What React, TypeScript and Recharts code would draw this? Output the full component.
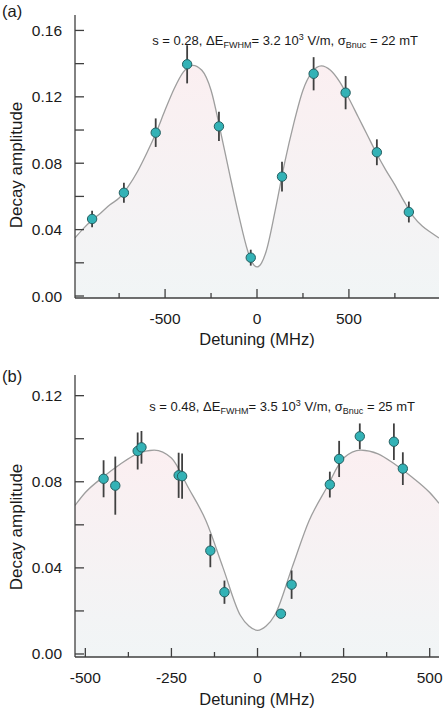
import React from 'react';
import { ComposedChart, Area, Scatter, ErrorBar, XAxis, YAxis } from 'recharts';

// (a) s = 0.28 — measured decay amplitudes with error bars
const detuningA = [-897, -724, -551, -380, -207, -34, 136, 308, 482, 652, 826];
const amplitudeA = [0.0464, 0.0622, 0.0984, 0.1396, 0.1022, 0.0231, 0.0719, 0.1339, 0.1225, 0.0866, 0.0506];
const errorA = [0.005, 0.006, 0.0086, 0.0115, 0.0088, 0.0048, 0.009, 0.01, 0.01, 0.0078, 0.0063];

// (a) model curve
const fitDetuningA = [
  -990, -950, -900, -850, -800, -750, -700, -650, -600, -550, -500, -450, -400, -350, -300, -250, -200, -150,
  -100, -50, -25, 0, 25, 50, 100, 150, 200, 250, 300, 350, 400, 450, 500, 550, 600, 650, 700, 750, 800, 850,
  900, 950, 990,
];
const fitAmplitudeA = [
  0.035, 0.04, 0.0455, 0.05, 0.055, 0.059, 0.066, 0.075, 0.086, 0.098, 0.112, 0.125, 0.135, 0.139, 0.136,
  0.124, 0.1, 0.074, 0.049, 0.027, 0.02, 0.0175, 0.02, 0.027, 0.052, 0.08, 0.104, 0.124, 0.135, 0.1387, 0.136,
  0.129, 0.119, 0.108, 0.097, 0.086, 0.076, 0.067, 0.057, 0.048, 0.042, 0.038, 0.035,
];

// (b) s = 0.48
const detuningB = [-447, -413, -348, -337, -229, -219, -137, -96, 68, 99, 210, 237, 297, 396, 422];
const amplitudeB = [0.0814, 0.0782, 0.0943, 0.096, 0.083, 0.0826, 0.048, 0.0287, 0.0187, 0.0322, 0.0787, 0.0906, 0.1011, 0.0986, 0.0861];
const errorB = [0.0086, 0.0135, 0.0086, 0.0076, 0.0105, 0.0105, 0.0077, 0.0054, 0.002, 0.0066, 0.006, 0.0084, 0.006, 0.0085, 0.0076];

const fitDetuningB = [
  -530, -500, -450, -400, -350, -300, -250, -200, -150, -100, -50, -25, 0, 25, 50, 100, 150, 200, 250, 300,
  350, 400, 450, 500, 527,
];
const fitAmplitudeB = [
  0.069, 0.075, 0.082, 0.088, 0.093, 0.0947, 0.091, 0.077, 0.062, 0.04, 0.018, 0.013, 0.011, 0.013, 0.018,
  0.04, 0.062, 0.077, 0.091, 0.0947, 0.093, 0.088, 0.082, 0.075, 0.07,
];

// axis ticks (labelled ones get the longer tick)
const xTicksA = [-750, -500, -250, 0, 250, 500, 750];
const xLabelsA = [-500, 0, 500];
const yTicksA = [0, 0.02, 0.04, 0.06, 0.08, 0.1, 0.12, 0.14, 0.16];
const yLabelsA = [0, 0.04, 0.08, 0.12, 0.16];

const xTicksB = [-500, -375, -250, -125, 0, 125, 250, 375, 500];
const xLabelsB = [-500, -250, 0, 250, 500];
const yTicksB = [0, 0.02, 0.04, 0.06, 0.08, 0.1, 0.12];
const yLabelsB = [0, 0.04, 0.08, 0.12];

const SANS = '"Liberation Sans", Arial, Helvetica, sans-serif';
const INK = '#3f3f3f';
const TEXT = '#1a1a1a';

const zip2 = (xs: number[], ys: number[]) => xs.map((x, i) => ({ x, y: ys[i] }));
const zip3 = (xs: number[], ys: number[], es: number[]) => xs.map((x, i) => ({ x, y: ys[i], err: es[i] }));

type Side = 'bottom' | 'top' | 'left' | 'right';

// ticks point into the plot box on all four sides
const makeTick = (side: Side, labels: number[], fmt: (v: number) => string, majorLen: number, minorLen: number) =>
  (props: any) => {
    const { x, y, payload } = props;
    const v = payload.value;
    const major = labels.some((l) => Math.abs(l - v) < 1e-9);
    const len = major ? majorLen : minorLen;
    let line;
    if (side === 'bottom') line = { x1: x, x2: x, y1: y, y2: y - len };
    else if (side === 'top') line = { x1: x, x2: x, y1: y, y2: y + len };
    else if (side === 'left') line = { x1: x, x2: x + len, y1: y, y2: y };
    else line = { x1: x, x2: x - len, y1: y, y2: y };
    return (
      <g>
        <line {...line} stroke={INK} strokeWidth={1.3} />
        {major && side === 'bottom' && (
          <text x={x} y={y + 25.5} textAnchor="middle" fontSize={15.5} fontFamily={SANS} fill={TEXT}>
            {fmt(v)}
          </text>
        )}
        {major && side === 'left' && (
          <text x={x - 13} y={y + 5.5} textAnchor="end" fontSize={15.5} fontFamily={SANS} fill={TEXT}>
            {fmt(v)}
          </text>
        )}
      </g>
    );
  };

const fmtX = (v: number) => `${v}`;
const fmtY = (v: number) => v.toFixed(2);

type PanelProps = {
  id: string;
  top: number;
  height: number;
  axisHeight: number;
  titleOffset: number;
  fit: { x: number; y: number }[];
  points: { x: number; y: number; err: number }[];
  xDomain: [number, number];
  yDomain: [number, number];
  xTicks: number[];
  xLabels: number[];
  yTicks: number[];
  yLabels: number[];
};

const Panel = (p: PanelProps) => (
  <div style={{ position: 'absolute', left: 0, top: p.top }}>
    <ComposedChart width={444} height={p.height} data={p.fit} margin={{ top: 15, right: 5, bottom: 0, left: 0 }}>
      <defs>
        <linearGradient id={`fill-${p.id}`} x1="0" y1="0" x2="0" y2="1">
          <stop offset="0%" stopColor="#fbeff1" />
          <stop offset="100%" stopColor="#f1f5f6" />
        </linearGradient>
      </defs>
      <XAxis
        dataKey="x"
        type="number"
        domain={p.xDomain}
        allowDataOverflow
        ticks={p.xTicks}
        interval={0}
        height={p.axisHeight}
        tickSize={0}
        tickMargin={0}
        tickLine={false}
        axisLine={{ stroke: INK, strokeWidth: 1.3 }}
        tick={makeTick('bottom', p.xLabels, fmtX, 9, 5)}
        label={{
          value: 'Detuning (MHz)',
          position: 'insideBottom',
          offset: p.titleOffset,
          fill: TEXT,
          fontSize: 16.5,
          fontFamily: SANS,
        }}
      />
      <XAxis
        xAxisId="top"
        orientation="top"
        type="number"
        domain={p.xDomain}
        allowDataOverflow
        ticks={p.xTicks}
        interval={0}
        height={0}
        tickSize={0}
        tickMargin={0}
        tickLine={false}
        axisLine={{ stroke: INK, strokeWidth: 1.3 }}
        tick={makeTick('top', p.xLabels, fmtX, 9, 5)}
      />
      <YAxis
        type="number"
        domain={p.yDomain}
        allowDataOverflow
        ticks={p.yTicks}
        interval={0}
        width={75}
        tickSize={0}
        tickMargin={0}
        tickLine={false}
        axisLine={{ stroke: INK, strokeWidth: 1.3 }}
        tick={makeTick('left', p.yLabels, fmtY, 9, 9)}
      />
      <YAxis
        yAxisId="right"
        orientation="right"
        type="number"
        domain={p.yDomain}
        allowDataOverflow
        ticks={p.yTicks}
        interval={0}
        width={0}
        tickSize={0}
        tickMargin={0}
        tickLine={false}
        axisLine={{ stroke: '#8a8a8a', strokeWidth: 1.3 }}
        tick={makeTick('right', p.yLabels, fmtY, 9, 9)}
      />
      <Area
        type="monotone"
        dataKey="y"
        baseValue="dataMin"
        stroke="#9e9e9e"
        strokeWidth={1.3}
        fill={`url(#fill-${p.id})`}
        fillOpacity={1}
        dot={false}
        activeDot={false}
        isAnimationActive={false}
      />
      <Scatter
        data={p.points}
        dataKey="y"
        isAnimationActive={false}
        shape={(s: any) => <circle cx={s.cx} cy={s.cy} r={4.7} fill="#33b2b6" stroke="#245e60" strokeWidth={1} />}
      >
        <ErrorBar dataKey="err" direction="y" width={0} stroke="#404040" strokeWidth={1.8} />
      </Scatter>
    </ComposedChart>
  </div>
);

const Note = ({ top, right, s, de, sigma }: { top: number; right: number; s: string; de: string; sigma: string }) => {
  const sub: React.CSSProperties = { fontSize: 9, verticalAlign: '-0.3em' };
  const sup: React.CSSProperties = { fontSize: 9, verticalAlign: '0.55em' };
  return (
    <div
      style={{
        position: 'absolute',
        top,
        right,
        fontFamily: SANS,
        fontSize: 13,
        lineHeight: '14px',
        color: TEXT,
        whiteSpace: 'nowrap',
      }}
    >
      s = {s}, ΔE<span style={sub}>FWHM</span>= {de} 10<span style={sup}>3</span> V/m, σ<span style={sub}>Bnuc</span> = {sigma} mT
    </div>
  );
};

const YTitle = ({ centerY }: { centerY: number }) => (
  <div
    style={{
      position: 'absolute',
      left: 17 - 100,
      top: centerY - 10,
      width: 200,
      height: 20,
      lineHeight: '20px',
      textAlign: 'center',
      transform: 'rotate(-90deg)',
      fontFamily: SANS,
      fontSize: 17,
      color: TEXT,
      whiteSpace: 'nowrap',
    }}
  >
    Decay amplitude
  </div>
);

const PanelTag = ({ top, text }: { top: number; text: string }) => (
  <div style={{ position: 'absolute', left: 2, top, fontFamily: SANS, fontSize: 16.5, lineHeight: '18px', color: TEXT }}>
    {text}
  </div>
);

export default function App() {
  return (
    <div style={{ position: 'absolute', left: 0, top: 0, width: 444, height: 710, background: '#fff', overflow: 'hidden' }}>
      <Panel
        id="a"
        top={0}
        height={355}
        axisHeight={57}
        titleOffset={10}
        fit={zip2(fitDetuningA, fitAmplitudeA)}
        points={zip3(detuningA, amplitudeA, errorA)}
        xDomain={[-990, 990]}
        yDomain={[-0.0012, 0.1693]}
        xTicks={xTicksA}
        xLabels={xLabelsA}
        yTicks={yTicksA}
        yLabels={yLabelsA}
      />
      <Panel
        id="b"
        top={360}
        height={350}
        axisHeight={53}
        titleOffset={5}
        fit={zip2(fitDetuningB, fitAmplitudeB)}
        points={zip3(detuningB, amplitudeB, errorB)}
        xDomain={[-530, 527]}
        yDomain={[-0.0014, 0.1296]}
        xTicks={xTicksB}
        xLabels={xLabelsB}
        yTicks={yTicksB}
        yLabels={yLabelsB}
      />
      <PanelTag top={2} text="(a)" />
      <PanelTag top={367} text="(b)" />
      <YTitle centerY={165} />
      <YTitle centerY={527} />
      <Note top={30} right={26} s="0.28" de="3.2" sigma="22" />
      <Note top={396} right={29} s="0.48" de="3.5" sigma="25" />
    </div>
  );
}
